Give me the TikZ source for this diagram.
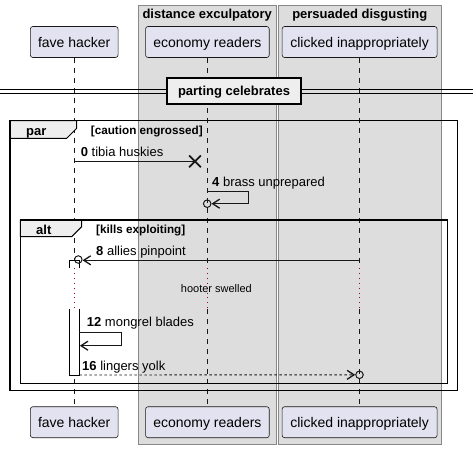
\documentclass[tikz,border=0pt]{standalone}
\usepackage{fontspec}
\setmainfont{Liberation Sans}
\usetikzlibrary{arrows.meta,shapes.misc}
\definecolor{partfill}{HTML}{E2E2F0}
\definecolor{partline}{HTML}{181818}
\definecolor{boxfill}{HTML}{DDDDDD}
\definecolor{boxline}{HTML}{888888}
\definecolor{tabfill}{HTML}{EEEEEE}
\definecolor{delaycol}{HTML}{A80036}
\begin{document}
\begin{tikzpicture}[x=1pt,y=-1pt,
  groupbox/.style={fill=boxfill,draw=boxline,line width=0.8pt},
  grouptitle/.style={anchor=base,inner sep=0pt,font=\fontsize{13}{15}\selectfont\bfseries},
  part/.style={draw=partline,fill=partfill,rounded corners=2.5pt,line width=0.6pt,
    inner sep=0pt,minimum height=31pt,text height=11pt,text depth=0pt,
    font=\fontsize{14}{16}\selectfont},
  lifeline/.style={draw=partline,line width=0.6pt,dash pattern=on 5pt off 5pt},
  delayline/.style={draw=delaycol,line width=0.9pt,dash pattern=on 0.9pt off 4pt},
  sepline/.style={draw=black,line width=1pt},
  sepbox/.style={draw=black,fill=tabfill,line width=1.8pt,inner sep=0pt,
    minimum width=134pt,minimum height=26pt,text height=9pt,text depth=0pt,
    font=\fontsize{13}{15}\selectfont\bfseries},
  frame/.style={draw=black,line width=1.5pt},
  tab/.style={draw=black,fill=tabfill,line width=1pt},
  tablbl/.style={anchor=base west,inner sep=0pt,font=\fontsize{13}{15}\selectfont\bfseries},
  guard/.style={anchor=base west,inner sep=0pt,font=\fontsize{11.7}{14}\selectfont\bfseries},
  lbl/.style={anchor=base west,inner sep=0pt,font=\fontsize{13}{15}\selectfont},
  delaylbl/.style={anchor=base west,inner sep=0pt,font=\fontsize{11}{13}\selectfont},
  msg/.style={draw=partline,line width=0.9pt,-{Straight Barb[length=7pt,width=9pt,line width=1.3pt]}},
  dmsg/.style={msg,dash pattern=on 2.5pt off 2.5pt},
  endcircle/.style={circle,draw=partline,line width=1pt,minimum size=7.5pt,inner sep=0pt},
  crossmark/.style={cross out,draw=partline,line width=1.7pt,minimum size=10pt,inner sep=0pt},
  actbar/.style={draw=black,fill=white,line width=0.9pt}
]
\useasboundingbox (0,0) rectangle (473,448);
% groups
\path[groupbox] (138,5) rectangle (276.3,444);
\path[groupbox] (278.3,5) rectangle (441.3,444);
\node[grouptitle] (g1) at (207.2,18.3) {distance exculpatory};
\node[grouptitle] (g2) at (359.8,18.3) {persuaded disgusting};
% participants
\node[part,minimum width=87.7pt] (fhT) at (74.2,42) {fave hacker};
\node[part,minimum width=123.7pt] (erT) at (207.4,42) {economy readers};
\node[part,minimum width=155pt] (ciT) at (359.6,42) {clicked inappropriately};
\node[part,minimum width=87.7pt] (fhB) at (74.2,422.2) {fave hacker};
\node[part,minimum width=123.7pt] (erB) at (207.4,422.2) {economy readers};
\node[part,minimum width=155pt] (ciB) at (359.6,422.2) {clicked inappropriately};
% helper y coordinates
\coordinate (d1) at (0,268);
\coordinate (d2) at (0,309);
% lifelines
\foreach \p in {fh,er,ci}{
  \draw[lifeline] (\p T.south) -- (\p T.south |- d1);
  \draw[delayline] (\p T.south |- d1) -- (\p T.south |- d2);
  \draw[lifeline] (\p T.south |- d2) -- (\p B.north);
}
% separator
\coordinate (sl1) at (0,89.5); \coordinate (sr1) at (473,89.5);
\coordinate (sl2) at (0,93.5); \coordinate (sr2) at (473,93.5);
\draw[sepline] (sl1) -- (sr1);
\draw[sepline] (sl2) -- (sr2);
\node[sepbox] (sep) at (234,91.3) {parting celebrates};
% par frame
\draw[frame] (10,120.5) rectangle (457.7,390.7);
\draw[tab] (10,120.5) -- (76.7,120.5) -- (76.7,128.3) -- (66.7,138.3) -- (10,138.3) -- cycle;
\draw[frame] (10,120.5) rectangle (457.7,390.7);
\node[tablbl] (parl) at (26,135) {par};
\node[guard] (parg) at (90.7,134) {[caution engrossed]};
% alt frame
\draw[frame] (20.3,220) rectangle (447.7,383.3);
\draw[tab] (20.3,220) -- (81.7,220) -- (81.7,226.7) -- (71.7,236.7) -- (20.3,236.7) -- cycle;
\draw[frame] (20.3,220) rectangle (447.7,383.3);
\node[tablbl] (altl) at (36,234) {alt};
\node[guard] (altg) at (96,233.3) {[kills exploiting]};
% message 0
\coordinate (y161) at (0,161.3);
\node[crossmark] (m0x) at (195,161.3) {};
\draw[draw=partline,line width=0.9pt] (fhT.south |- y161) -- (m0x.center);
\node[lbl] (l0) at (80.7,156) {\textbf{0} tibia huskies};
% message 4
\coordinate (y191) at (0,191);
\node[endcircle] (m4c) at (207.2,203.7) {};
\draw[msg] (erT.south |- y191) -- ++(41.5,0) |- (m4c.east);
\node[lbl] (l4) at (212,186.7) {\textbf{4} brass unprepared};
% activation bar
\coordinate (a1a) at (69.7,268); \coordinate (a1b) at (69.7,260.3);
\coordinate (a1c) at (79.3,260.3); \coordinate (a1d) at (79.3,268);
\draw[actbar] (a1a) -- (a1b) -- (a1c) -- (a1d);
\coordinate (a2a) at (69.7,309); \coordinate (a2b) at (69.7,375);
\coordinate (a2c) at (79.3,375); \coordinate (a2d) at (79.3,309);
\draw[actbar] (a2a) -- (a2b) -- (a2c) -- (a2d);
% message 8
\coordinate (y260) at (0,260.3);
\node[endcircle] (m8c) at (78.3,259.5) {};
\draw[msg] (ciT.south |- y260) -- (m8c.east |- y260);
\node[lbl] (l8) at (96,255) {\textbf{8} allies pinpoint};
% delay
\node[delaylbl] (dl) at (180.7,292.7) {hooter swelled};
% message 12
\coordinate (m12s) at (79.3,332.7);
\coordinate (m12e) at (79.8,345.7);
\draw[msg] (m12s) -- ++(42,0) |- (m12e);
\node[lbl] (l12) at (86.7,326.7) {\textbf{12} mongrel blades};
% message 16
\node[endcircle] (m16c) at (359.5,374.8) {};
\draw[dmsg] (a2c) -- (m16c.west);
\node[lbl] (l16) at (82,370) {\textbf{16} lingers yolk};
\end{tikzpicture}
\end{document}
